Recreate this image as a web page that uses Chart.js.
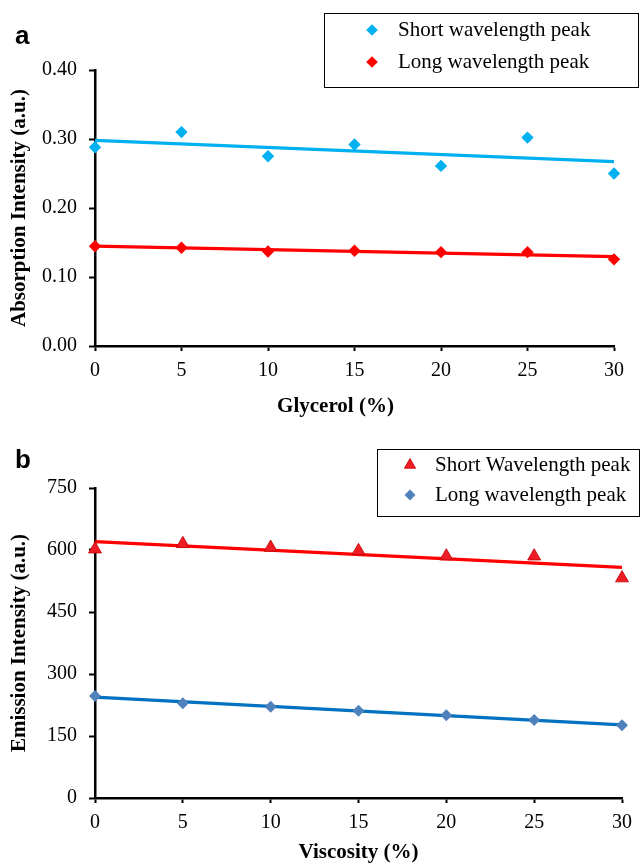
<!DOCTYPE html>
<html><head><meta charset="utf-8">
<script src="https://cdn.jsdelivr.net/npm/chart.js@4.4.1/dist/chart.umd.min.js"></script>
<style>
html,body{margin:0;padding:0;background:#fff;}
#wrap{position:relative;width:640px;height:864px;}
.c{position:absolute;left:0;}
</style></head><body>
<div id="wrap">
<div class="c" style="top:0;"><canvas id="ca" width="640" height="430"></canvas></div>
<div class="c" style="top:430px;"><canvas id="cb" width="640" height="434"></canvas></div>
</div>
<script>
// ---- data ----
const glycerol = [0, 5, 10, 15, 20, 25, 30];
const absShort = [0.288, 0.310, 0.275, 0.292, 0.261, 0.302, 0.250];
const absLong  = [0.1445, 0.1425, 0.137, 0.138, 0.136, 0.136, 0.1256];
const viscosity = [0, 5, 10, 15, 20, 25, 30];
const emShort = [602, 615, 606, 598, 585, 585, 532];
const emLong  = [247, 229, 221, 211, 200, 189, 176];
const xTicks  = [0, 5, 10, 15, 20, 25, 30];
const yTicksA = [0, 0.1, 0.2, 0.3, 0.4];
const yTicksB = [0, 150, 300, 450, 600, 750];

function pts(xs, ys) { return xs.map((x, i) => ({ x: x, y: ys[i] })); }
function fit(xs, ys) {
  const n = xs.length;
  const mx = xs.reduce((a, b) => a + b, 0) / n;
  const my = ys.reduce((a, b) => a + b, 0) / n;
  let sxy = 0, sxx = 0;
  for (let i = 0; i < n; i++) { sxy += (xs[i] - mx) * (ys[i] - my); sxx += (xs[i] - mx) * (xs[i] - mx); }
  const m = sxy / sxx, b = my - m * mx;
  return [{ x: xs[0], y: m * xs[0] + b }, { x: xs[n - 1], y: m * xs[n - 1] + b }];
}

const SERIF = '"Liberation Serif", "Times New Roman", serif';

const deco = {
  id: 'deco',
  afterDraw(chart, args, o) {
    const ctx = chart.ctx, ca = chart.chartArea;
    ctx.save();
    ctx.fillStyle = '#000';
    ctx.font = 'bold 26px "Liberation Sans", Arial, sans-serif';
    ctx.textAlign = 'left'; ctx.textBaseline = 'alphabetic';
    ctx.fillText(o.letter, o.letterX, o.letterY);
    ctx.font = 'bold 21px ' + SERIF;
    ctx.textAlign = 'center'; ctx.textBaseline = 'middle';
    ctx.fillText(o.xTitle, (ca.left + ca.right) / 2 + o.xTitleShift, o.xTitleY);
    ctx.save();
    ctx.translate(o.yTitleX, (ca.top + ca.bottom) / 2);
    ctx.rotate(-Math.PI / 2);
    ctx.fillText(o.yTitle, 0, 0);
    ctx.restore();
    // legend box
    const L = o.legend;
    ctx.fillStyle = '#fff';
    ctx.fillRect(L.x, L.y, L.w, L.h);
    ctx.strokeStyle = '#000'; ctx.lineWidth = 1;
    ctx.strokeRect(L.x + 0.5, L.y + 0.5, L.w, L.h);
    const items = chart.data.datasets.filter(d => d.legendItem);
    items.forEach((d, i) => {
      const y = L.rowY[i];
      ctx.fillStyle = d.backgroundColor; ctx.strokeStyle = d.borderColor;
      ctx.lineWidth = d.pointBorderWidth || 0;
      Chart.helpers.drawPoint(ctx, { pointStyle: d.pointStyle, radius: L.markR[i], borderWidth: d.pointBorderWidth || 0, rotation: 0 }, L.markX, y);
      ctx.fillStyle = '#000';
      ctx.font = '21px ' + SERIF;
      ctx.textAlign = 'left'; ctx.textBaseline = 'middle';
      ctx.fillText(d.label, L.textX, y);
    });
    ctx.restore();
  }
};

function axisCfg(ticksArr, fmt, isX) {
  return {
    type: 'linear',
    min: ticksArr[0], max: ticksArr[ticksArr.length - 1],
    afterBuildTicks: s => { s.ticks = ticksArr.map(v => ({ value: v })); },
    ticks: { font: { family: SERIF, size: 20 }, color: '#000', padding: isX ? 8 : 12, maxRotation: 0, autoSkip: false, callback: fmt },
    grid: { drawOnChartArea: false, drawTicks: true, tickLength: isX ? 5 : 6, tickColor: '#000', tickWidth: 2 },
    border: { color: '#000', width: 2.5 },
    afterFit: isX ? (s => { s.height = 40; }) : (s => { s.width = 95; })
  };
}

Chart.defaults.animation = false;

new Chart(document.getElementById('ca'), {
  type: 'scatter',
  data: {
    datasets: [
      { label: 'Short wavelength peak', legendItem: true, data: pts(glycerol, absShort), pointStyle: 'rectRot', pointRadius: 6.2, backgroundColor: '#00B0F0', borderColor: '#00B0F0', pointBorderWidth: 0, clip: false },
      { label: 'Long wavelength peak', legendItem: true, data: pts(glycerol, absLong), pointStyle: 'rectRot', pointRadius: 6.2, backgroundColor: '#FF0000', borderColor: '#FF0000', pointBorderWidth: 0, clip: false },
      { label: 'fit short', data: fit(glycerol, absShort), showLine: true, pointRadius: 0, borderColor: '#00B0F0', borderWidth: 3.2, clip: false },
      { label: 'fit long', data: fit(glycerol, absLong), showLine: true, pointRadius: 0, borderColor: '#FF0000', borderWidth: 3.2, clip: false }
    ]
  },
  options: {
    responsive: false, devicePixelRatio: 1, events: [],
    layout: { padding: { top: 70, right: 26, bottom: 44, left: 0 } },
    plugins: {
      legend: { display: false }, tooltip: { enabled: false },
      deco: {
        letter: 'a', letterX: 15, letterY: 44,
        xTitle: 'Glycerol (%)', xTitleShift: -19, xTitleY: 407,
        yTitle: 'Absorption Intensity (a.u.)', yTitleX: 20,
        legend: { x: 324, y: 13, w: 314, h: 74, rowY: [30, 62], markX: 372, markR: [5.8, 5.8], textX: 398 }
      }
    },
    scales: {
      x: axisCfg(xTicks, v => v, true),
      y: axisCfg(yTicksA, v => Number(v).toFixed(2), false)
    }
  },
  plugins: [deco]
});

new Chart(document.getElementById('cb'), {
  type: 'scatter',
  data: {
    datasets: [
      { label: 'Short Wavelength peak', legendItem: true, data: pts(viscosity, emShort), pointStyle: 'triangle', pointRadius: 7.5, backgroundColor: '#EE1C25', borderColor: '#C00000', pointBorderWidth: 0.8, borderWidth: 0.8, clip: false },
      { label: 'Long wavelength peak', legendItem: true, data: pts(viscosity, emLong), pointStyle: 'rectRot', pointRadius: 6, backgroundColor: '#4F81BD', borderColor: '#4F81BD', pointBorderWidth: 0, clip: false },
      { label: 'fit short', data: fit(viscosity, emShort), showLine: true, pointRadius: 0, borderColor: '#FF0000', borderWidth: 3.2, clip: false },
      { label: 'fit long', data: fit(viscosity, emLong), showLine: true, pointRadius: 0, borderColor: '#0070C0', borderWidth: 3.2, clip: false }
    ]
  },
  options: {
    responsive: false, devicePixelRatio: 1, events: [],
    layout: { padding: { top: 58, right: 12, bottom: 26, left: 0 } },
    plugins: {
      legend: { display: false }, tooltip: { enabled: false },
      deco: {
        letter: 'b', letterX: 15, letterY: 38,
        xTitle: 'Viscosity (%)', xTitleShift: 0, xTitleY: 423,
        yTitle: 'Emission Intensity (a.u.)', yTitleX: 20,
        legend: { x: 377, y: 19, w: 262, h: 67, rowY: [35, 65], markX: 410, markR: [6.5, 5.5], textX: 435 }
      }
    },
    scales: {
      x: axisCfg(xTicks, v => v, true),
      y: axisCfg(yTicksB, v => v, false)
    }
  },
  plugins: [deco]
});
</script>
</body></html>
